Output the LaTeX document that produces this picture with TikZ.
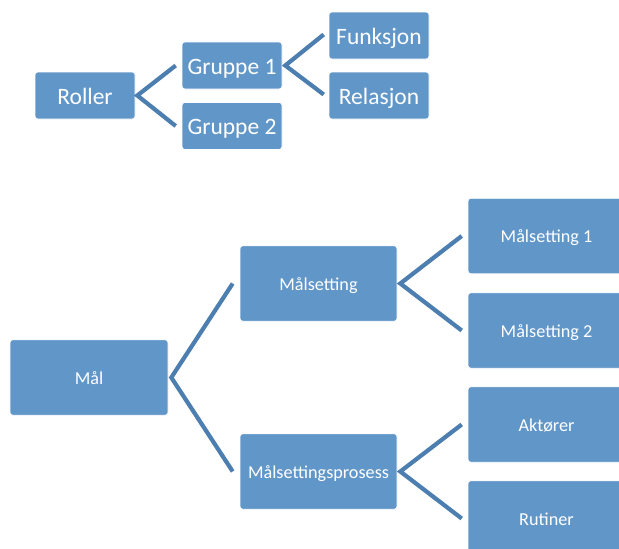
\documentclass[tikz,border=0pt]{standalone}
\usepackage{fontspec}
\setmainfont{Carlito}
\definecolor{boxfill}{RGB}{97,150,201}
\definecolor{linkcol}{RGB}{76,126,176}
\begin{document}
\begin{tikzpicture}[x=1pt,y=-1pt,
  boxbase/.style={fill=boxfill, draw=white, line width=0.6pt, rounded corners=3pt, text=white, inner sep=0pt, anchor=center},
  topbox/.style={boxbase, minimum width=100pt, minimum height=47pt, font=\fontsize{23.5}{26}\selectfont, text height=17pt, text depth=0pt},
  lowbox/.style={boxbase, minimum width=157pt, minimum height=75.5pt, font=\fontsize{18.2}{21}\selectfont, text height=13.6pt, text depth=0pt},
  link/.style={draw=linkcol, line width=4.2pt, line join=miter}]
\useasboundingbox (0,0) rectangle (619,549);
\clip (0,0) rectangle (619,549);
% top tree
\node[topbox] (roller) at (85,95.5) {Roller};
\node[topbox] (g1) at (232,65.5) {Gruppe 1};
\node[topbox] (g2) at (232,126) {Gruppe 2};
\node[topbox] (fun) at (379,35.5) {Funksjon};
\node[topbox] (rel) at (379,95.5) {Relasjon};
\draw[link] ([xshift=-6pt]g1.west) -- ([xshift=2pt]roller.east) -- ([xshift=-6pt]g2.west);
\draw[link] ([xshift=-5pt,yshift=1pt]fun.west) -- ([xshift=3pt]g1.east) -- ([xshift=-5pt,yshift=1pt]rel.west);
% bottom tree
\node[lowbox, minimum width=158pt] (maal) at (89,377.5) {Mål};
\node[lowbox] (ms) at (318.5,283.5) {Målsetting};
\node[lowbox] (msp) at (318.5,471.5) {Målsettingsprosess};
\node[lowbox] (ms1) at (546.5,236) {Målsetting 1};
\node[lowbox] (ms2) at (546.5,330.5) {Målsetting 2};
\node[lowbox] (akt) at (546.5,424.5) {Aktører};
\node[lowbox] (rut) at (546.5,518.5) {Rutiner};
\draw[link] ([xshift=-7pt]ms.west) -- ([xshift=3pt]maal.east) -- ([xshift=-7pt]msp.west);
\draw[link] ([xshift=-6pt]ms1.west) -- ([xshift=3pt]ms.east) -- ([xshift=-6pt]ms2.west);
\draw[link] ([xshift=-6pt]akt.west) -- ([xshift=3pt]msp.east) -- ([xshift=-6pt]rut.west);
\end{tikzpicture}
\end{document}
